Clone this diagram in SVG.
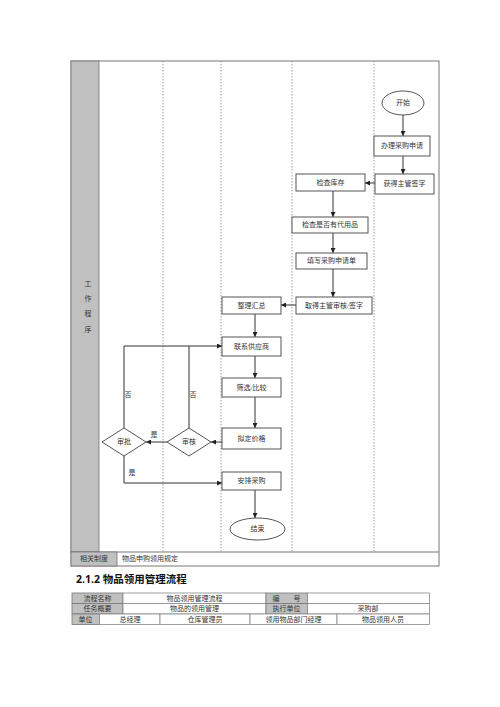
<svg xmlns="http://www.w3.org/2000/svg" width="500" height="707" viewBox="0 0 500 707">
<style>
.t{font-family:"Liberation Serif","Noto Sans CJK SC",serif;font-size:7px;fill:#333;text-anchor:middle;dominant-baseline:central}
.tl{font-family:"Liberation Serif","Noto Sans CJK SC",serif;font-size:7px;fill:#333;dominant-baseline:central}
.box{fill:#fff;stroke:#555;stroke-width:1}
.frame{fill:none;stroke:#777;stroke-width:1}
.dash{stroke:#888;stroke-width:0.8;stroke-dasharray:1.5,1.5}
.gray{fill:#c0c0c0;stroke:#777;stroke-width:0.8}
.cell{fill:#fff;stroke:#888;stroke-width:0.8}
.line{fill:none;stroke:#333;stroke-width:1}
.h{font-family:"Open Sans","Noto Sans CJK SC",sans-serif;font-size:10.5px;font-weight:bold;fill:#111}
</style>
<defs>
<marker id="ar" viewBox="0 0 10 10" refX="10" refY="5" markerWidth="5" markerHeight="5" orient="auto"><path d="M0,0L10,5L0,10z" fill="#222"/></marker>
</defs>
<rect width="500" height="707" fill="#fff"/>
<g id="frame">
<rect x="71" y="61" width="368" height="505" fill="#fff" stroke="#777" stroke-width="1"/>
<rect class="gray" x="71" y="61" width="28" height="491"/>
<line x1="71" y1="552" x2="439" y2="552" stroke="#777" stroke-width="1"/>
<rect class="gray" x="71" y="552" width="46" height="14"/>
<text class="t" x="94" y="559">相关制度</text>
<text class="tl" x="122" y="559">物品申购领用规定</text>
<text class="t" x="88" y="284">工</text>
<text class="t" x="88" y="299">作</text>
<text class="t" x="88" y="314">程</text>
<text class="t" x="88" y="330">序</text>
<line class="dash" x1="163" y1="61" x2="163" y2="552"/>
<line class="dash" x1="221" y1="61" x2="221" y2="552"/>
<line class="dash" x1="292" y1="61" x2="292" y2="552"/>
<line class="dash" x1="374" y1="61" x2="374" y2="552"/>
</g>
<g id="connectors">
<line class="line" x1="403" y1="115" x2="403" y2="136" marker-end="url(#ar)"/>
<line class="line" x1="403" y1="156" x2="403" y2="174" marker-end="url(#ar)"/>
<line class="line" x1="375" y1="183" x2="365" y2="183" marker-end="url(#ar)"/>
<line class="line" x1="333" y1="191" x2="333" y2="217" marker-end="url(#ar)"/>
<line class="line" x1="333" y1="233" x2="333" y2="253" marker-end="url(#ar)"/>
<line class="line" x1="333" y1="269" x2="333" y2="297" marker-end="url(#ar)"/>
<line class="line" x1="296" y1="305" x2="281" y2="305" marker-end="url(#ar)"/>
<line class="line" x1="255" y1="314" x2="255" y2="337" marker-end="url(#ar)"/>
<line class="line" x1="255" y1="356" x2="255" y2="378" marker-end="url(#ar)"/>
<line class="line" x1="255" y1="397" x2="255" y2="428" marker-end="url(#ar)"/>
<line class="line" x1="223" y1="442" x2="211" y2="442" marker-end="url(#ar)"/>
<line class="line" x1="167" y1="442" x2="146" y2="442" marker-end="url(#ar)"/>
<polyline class="line" points="189,428 189,346"/>
<polyline class="line" points="124,428 124,346 222,346" marker-end="url(#ar)"/>
<polyline class="line" points="124,456 124,483 222,483" marker-end="url(#ar)"/>
<line class="line" x1="255" y1="490" x2="255" y2="518" marker-end="url(#ar)"/>
<text class="t" x="154" y="435">是</text>
<text class="t" x="193" y="395">否</text>
<text class="t" x="128" y="395">否</text>
<text class="t" x="132" y="473">是</text>
</g>
<g id="start"><ellipse class="box" cx="403" cy="103" rx="21" ry="12"/><text class="t" x="403" y="103">开始</text></g>
<g id="apply"><rect class="box" x="374" y="136" width="56" height="20"/><text class="t" x="402" y="146">办理采购申请</text></g>
<g id="sign"><rect class="box" x="375" y="174" width="59" height="20"/><text class="t" x="404.5" y="184">获得主管签字</text></g>
<g id="stock"><rect class="box" x="296" y="174" width="69" height="17"/><text class="t" x="330.5" y="182.5">检查库存</text></g>
<g id="substitute"><rect class="box" x="292" y="217" width="76" height="16"/><text class="t" x="330" y="225">检查是否有代用品</text></g>
<g id="form"><rect class="box" x="296" y="253" width="71" height="16"/><text class="t" x="331.5" y="261">填写采购申请单</text></g>
<g id="approve"><rect class="box" x="296" y="297" width="76" height="17"/><text class="t" x="334" y="305.5">取得主管审核/签字</text></g>
<g id="summary"><rect class="box" x="222" y="297" width="59" height="17"/><text class="t" x="251.5" y="305.5">整理汇总</text></g>
<g id="supplier"><rect class="box" x="222" y="337" width="59" height="19"/><text class="t" x="251.5" y="346.5">联系供应商</text></g>
<g id="compare"><rect class="box" x="222" y="378" width="59" height="19"/><text class="t" x="251.5" y="387.5">筛选/比较</text></g>
<g id="price"><rect class="box" x="222" y="428" width="59" height="21"/><text class="t" x="251.5" y="438.5">拟定价格</text></g>
<g id="review"><polygon class="box" points="189,428 211,442 189,456 167,442"/><text class="t" x="189" y="442">审核</text></g>
<g id="approval"><polygon class="box" points="124,428 146,442 124,456 102,442"/><text class="t" x="124" y="442">审批</text></g>
<g id="arrange"><rect class="box" x="222" y="472" width="59" height="18"/><text class="t" x="251.5" y="481">安排采购</text></g>
<g id="end"><ellipse class="box" cx="257.5" cy="529" rx="27.5" ry="11"/><text class="t" x="257.5" y="529">结束</text></g>
<text class="h" x="76" y="583">2.1.2 物品领用管理流程</text>
<g id="table">
<rect class="gray" x="72" y="593" width="51" height="10.5"/>
<rect class="cell" x="123" y="593" width="143" height="10.5"/>
<rect class="gray" x="266" y="593" width="41.5" height="10.5"/>
<rect class="cell" x="307.5" y="593" width="122" height="10.5"/>
<rect class="gray" x="72" y="603.5" width="51" height="10.5"/>
<rect class="cell" x="123" y="603.5" width="143" height="10.5"/>
<rect class="gray" x="266" y="603.5" width="41.5" height="10.5"/>
<rect class="cell" x="307.5" y="603.5" width="122" height="10.5"/>
<rect class="gray" x="72" y="614" width="27.5" height="10.5"/>
<rect class="cell" x="99.5" y="614" width="60.5" height="10.5"/>
<rect class="cell" x="160" y="614" width="90" height="10.5"/>
<rect class="cell" x="250" y="614" width="87" height="10.5"/>
<rect class="cell" x="337" y="614" width="92.5" height="10.5"/>
<text class="t" x="97.5" y="598.5">流程名称</text>
<text class="t" x="194.5" y="598.5">物品领用管理流程</text>
<text class="t" x="286.5" y="598.5">编　　号</text>
<text class="t" x="97.5" y="609">任务概要</text>
<text class="t" x="194.5" y="609">物品的领用管理</text>
<text class="t" x="286.5" y="609">执行单位</text>
<text class="t" x="368" y="609">采购部</text>
<text class="t" x="85.5" y="619.5">单位</text>
<text class="t" x="130" y="619.5">总经理</text>
<text class="t" x="205" y="619.5">仓库管理员</text>
<text class="t" x="293.5" y="619.5">领用物品部门经理</text>
<text class="t" x="383" y="619.5">物品领用人员</text>
</g>
</svg>
